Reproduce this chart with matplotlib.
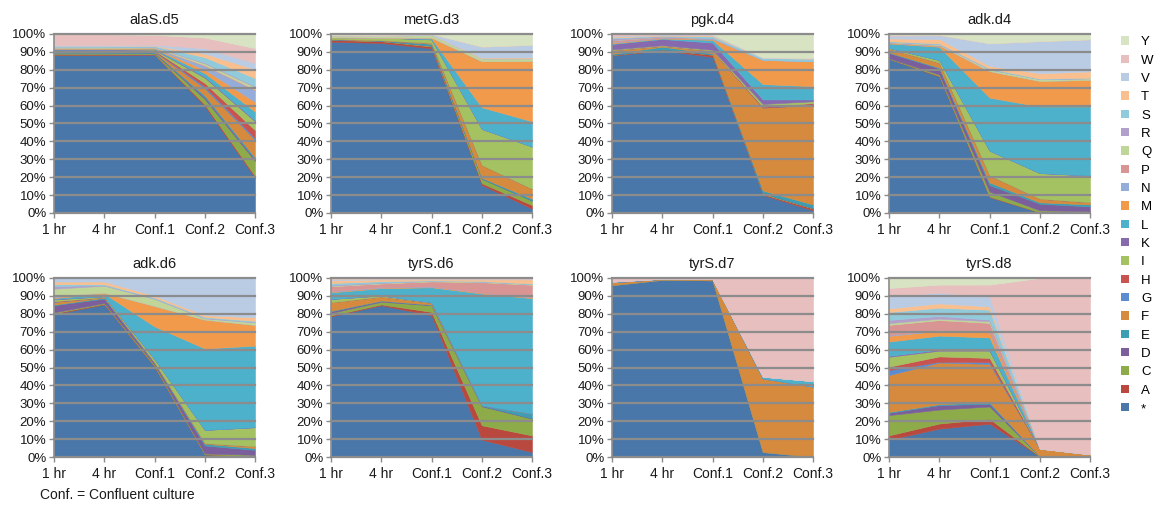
import numpy as np
import matplotlib.pyplot as plt
from matplotlib.patches import Patch
from matplotlib.ticker import PercentFormatter

plt.rcParams['font.family'] = ['Liberation Sans', 'DejaVu Sans']

timepoints = ['1 hr', '4 hr', 'Conf.1', 'Conf.2', 'Conf.3']
residues = ['*', 'A', 'C', 'D', 'E', 'F', 'G', 'H', 'I', 'K',
            'L', 'M', 'N', 'P', 'Q', 'R', 'S', 'T', 'V', 'W', 'Y']
colors = ['#4a77a9', '#b9493f', '#8eab4a', '#7a5f9c', '#3c9db3', '#d68a3e',
          '#5b8cd0', '#c9534f', '#a4c262', '#8769ae', '#4db1cc', '#f29a4c',
          '#93acd9', '#d99593', '#c0d59a', '#b1a0c9', '#91cadb', '#f9bf8e',
          '#bacbe4', '#e6bfbe', '#d7e3c3']

# percent of reads carrying each residue; residues not listed are 0
alaS_d5 = {
    '*': [88, 88.5, 88.5, 60, 20],
    'A': [0.3, 0.3, 0.3, 1, 1],
    'C': [0.5, 0.5, 0.5, 3, 8.5],
    'D': [0.3, 0.3, 0.3, 1, 1],
    'E': [0.3, 0.3, 0.3, 1, 1],
    'F': [0.5, 0.5, 0.5, 4, 10],
    'G': [0.2, 0.2, 0.2, 1, 1],
    'H': [0.2, 0.2, 0.3, 2, 4.5],
    'I': [0.5, 0.5, 0.5, 3, 5],
    'K': [0.2, 0.2, 0.2, 0.5, 0.5],
    'L': [0.3, 0.3, 0.3, 2, 5],
    'M': [0.3, 0.3, 0.3, 2, 5.5],
    'N': [0.2, 0.2, 0.2, 2, 6.5],
    'P': [0.1, 0.1, 0.1, 0.5, 0.5],
    'Q': [0.3, 0.3, 0.3, 1, 1.5],
    'R': [0.1, 0.1, 0.1, 0.5, 0.5],
    'S': [0.5, 0.5, 0.5, 3, 4.5],
    'T': [0.2, 0.2, 0.2, 2, 5],
    'V': [0.5, 0.5, 0.5, 3, 3.5],
    'W': [6, 6, 5.5, 6, 8.5],
    'Y': [0.2, 0.2, 0.5, 2, 8],
}
metG_d3 = {
    '*': [95.7, 95, 92, 15.5, 2.4],
    'A': [1, 1, 1, 1, 2],
    'C': [0.3, 0.3, 0.5, 2.5, 2.5],
    'E': [0.2, 0.2, 1, 0.5, 1],
    'F': [0, 0, 0.5, 7, 5.5],
    'I': [1, 1.5, 2, 20, 23.5],
    'L': [0, 0, 0.5, 12, 14],
    'M': [0, 0, 0.5, 25.5, 33.5],
    'Q': [1, 1, 1.5, 1.5, 1.5],
    'T': [0, 0, 0, 0.5, 0.5],
    'V': [0.3, 0.5, 0.5, 6, 7],
    'Y': [0.5, 0.5, 0, 7, 6],
}
pgk_d4 = {
    '*': [88, 91.4, 87, 10, 1.5],
    'A': [0.3, 0.3, 1.2, 0.5, 1],
    'C': [0.2, 0.2, 0.3, 0.5, 0.3],
    'E': [0.5, 1.5, 0.5, 1.5, 2],
    'F': [2, 0.5, 1.5, 46, 56],
    'H': [0, 0, 0, 0.5, 1],
    'I': [0.5, 0.3, 0.5, 1.5, 1],
    'K': [3, 3.5, 4, 2.5, 1],
    'L': [0.3, 0.3, 1.5, 8.5, 7.5],
    'M': [0.5, 0.3, 0.5, 13.5, 14],
    'N': [0.3, 0.2, 0.2, 0, 0],
    'P': [1, 0.5, 0.3, 0, 0],
    'R': [1, 0.3, 0, 0, 0],
    'S': [0.5, 0.3, 1, 1, 1.5],
    'T': [0.5, 0.3, 0.5, 0, 0],
    'V': [0.5, 0.3, 0.5, 0.3, 0.3],
    'W': [1, 0.3, 0, 0, 0],
    'Y': [0, 0, 0.3, 13, 13.5],
}
adk_d4 = {
    '*': [86.4, 77, 9, 0.4, 0.2],
    'A': [0, 0.3, 0.3, 0, 0],
    'C': [0.3, 0.8, 2.8, 1.1, 0.8],
    'D': [3, 3.5, 3.7, 3.7, 2.7],
    'E': [0.3, 0.5, 1.5, 0.8, 1.1],
    'F': [2, 2.7, 4, 2, 1.2],
    'I': [0.5, 1.5, 14, 14.4, 15],
    'L': [2.5, 7.5, 30, 37.3, 38.7],
    'M': [0.3, 0.5, 15, 14.3, 14.9],
    'N': [0.2, 0.2, 0, 0, 0],
    'P': [0.2, 0.2, 0, 0, 0],
    'Q': [0.3, 0.5, 1, 1, 0.9],
    'S': [0.3, 0.5, 0.5, 0.3, 0.3],
    'T': [1.5, 2.5, 1.5, 3, 3.5],
    'V': [1.5, 2, 12.7, 18, 18],
    'W': [0.5, 0.3, 0, 0, 0],
    'Y': [0.5, 0.5, 5.3, 4, 3],
}
adk_d6 = {
    '*': [80.4, 86, 51, 1.5, 0.5],
    'A': [0.5, 0.3, 0.3, 0, 0],
    'C': [0.5, 0.5, 0.8, 0.5, 0.7],
    'D': [4, 2.5, 0.9, 4.5, 2.8],
    'E': [0.3, 0.5, 0.3, 1, 1],
    'F': [1.5, 0.3, 0.3, 0.3, 1],
    'G': [0.2, 0, 0, 0, 0],
    'H': [0.2, 0, 0, 0, 0],
    'I': [1, 0.5, 1.7, 7.5, 10.7],
    'K': [0.3, 0, 0, 0, 0],
    'L': [0.5, 1.5, 18.5, 46, 45.7],
    'M': [0.5, 0.5, 11.5, 16.3, 11.6],
    'N': [0.5, 0, 0, 0, 0],
    'P': [0.3, 0, 0, 0, 0],
    'Q': [4, 4, 4, 0.7, 1.4],
    'R': [1.5, 0.3, 0.3, 0.3, 0.3],
    'S': [1, 0.5, 0.5, 0.5, 0.6],
    'T': [1.5, 1.5, 1, 1, 2],
    'V': [2, 2, 10, 21, 22],
}
tyrS_d6 = {
    '*': [78.5, 85, 79.4, 9.7, 2.8],
    'A': [0.5, 0.5, 1.9, 8.1, 9.3],
    'C': [1.4, 1.5, 3.7, 10.6, 9.4],
    'D': [0.9, 0.5, 0.2, 0.3, 0.3],
    'E': [0.3, 0.2, 0.2, 0.3, 2.5],
    'F': [4.7, 2.2, 1, 0, 0],
    'I': [1.9, 0.6, 0.3, 0, 0],
    'L': [3.7, 4.1, 8.4, 62.6, 64.8],
    'M': [0.3, 0.3, 0.3, 0.4, 0.4],
    'N': [0.3, 0.3, 0.2, 0, 0],
    'P': [2.8, 2, 2.8, 6, 7.1],
    'Q': [0.3, 0.3, 0.3, 0.3, 0.4],
    'R': [0.5, 0.3, 0, 0, 0],
    'S': [1, 0.7, 0.3, 0.3, 0.3],
    'T': [1.5, 1, 0.5, 0.9, 2.3],
    'V': [0.5, 0.3, 0.3, 0.3, 0.3],
    'W': [0.5, 0.3, 0.3, 0.3, 0.3],
    'Y': [0.3, 0.2, 0.2, 0.2, 0.2],
}
tyrS_d7 = {
    '*': [96, 99, 98.7, 2.8, 0.1],
    'F': [1.6, 0.5, 0.6, 41.1, 39.2],
    'L': [0.4, 0.1, 0.1, 1, 3.1],
    'W': [2, 0.4, 0.6, 55.1, 57.6],
}
tyrS_d8 = {
    '*': [9.7, 15.9, 18.7, 0.3, 0],
    'A': [2.4, 2.8, 2.8, 0, 0],
    'C': [11.3, 7.8, 6.9, 0, 0],
    'D': [1.3, 2.5, 1.5, 0, 0],
    'E': [0.5, 0.5, 0.9, 0, 0],
    'F': [20.6, 23.3, 21.5, 4.4, 1.5],
    'G': [2.8, 0.4, 1, 0, 0],
    'H': [1.9, 3, 2.4, 0, 0],
    'I': [5.5, 3.2, 4.1, 0, 0],
    'K': [0.5, 0.6, 0.3, 0, 0],
    'L': [8, 7.8, 7.1, 0, 0],
    'M': [3.2, 2.7, 3.1, 0, 0],
    'N': [0.5, 0.3, 0.3, 0, 0],
    'P': [5.6, 5.7, 4.8, 0, 0],
    'Q': [1, 0.8, 0.9, 0, 0],
    'R': [1.8, 1.5, 0.9, 0, 0],
    'S': [4.4, 4.6, 5.6, 0, 0],
    'T': [2, 2.4, 1.8, 0, 0],
    'V': [6.7, 6, 5.7, 0, 0],
    'W': [4.7, 4.5, 6.6, 95.3, 98.5],
    'Y': [5.6, 3.7, 3.7, 0, 0],
}

panels = [('alaS.d5', alaS_d5), ('metG.d3', metG_d3), ('pgk.d4', pgk_d4), ('adk.d4', adk_d4),
          ('adk.d6', adk_d6), ('tyrS.d6', tyrS_d6), ('tyrS.d7', tyrS_d7), ('tyrS.d8', tyrS_d8)]

W, H = 1160, 508
fig = plt.figure(figsize=(W / 100, H / 100), dpi=100)

lefts = [54, 331, 612, 889]
tops = [34, 278]
ax_w, ax_h = 201, 179
grid_col = '#8c8c8c'
x = np.arange(len(timepoints))

for i, (name, counts) in enumerate(panels):
    row, col = divmod(i, 4)
    ax = fig.add_axes([lefts[col] / W, 1 - (tops[row] + ax_h) / H, ax_w / W, ax_h / H])
    data = np.array([counts.get(r, [0] * len(timepoints)) for r in residues], dtype=float)
    data = data / data.sum(axis=0)  # 100% stacked
    polys = ax.stackplot(x, data, colors=colors)
    for p, c in zip(polys, colors):
        p.set_edgecolor(c)
        p.set_linewidth(0.4)

    ax.set_xlim(0, 4)
    ax.set_ylim(0, 1)
    ax.set_yticks(np.linspace(0, 1, 11))
    ax.yaxis.set_major_formatter(PercentFormatter(1.0, decimals=0))
    ax.set_xticks(x)
    ax.set_xticklabels(timepoints)
    ax.set_axisbelow(False)
    ax.yaxis.grid(True, color=grid_col, linewidth=1.6)
    for gl in ax.get_ygridlines():
        gl.set_clip_on(False)
    ax.tick_params(axis='both', labelsize=9.5, colors=grid_col, labelcolor='#1a1a1a',
                   length=3.5, width=1, pad=2)
    ax.tick_params(axis='x', labelsize=10, pad=4)
    for side in ('top', 'right'):
        ax.spines[side].set_visible(False)
    for side in ('left', 'bottom'):
        ax.spines[side].set_color(grid_col)
        ax.spines[side].set_linewidth(1.2)
    ax.set_title(name, fontsize=10.5, pad=7, color='#1a1a1a')

handles = [Patch(facecolor=c, edgecolor='none') for c in colors]
fig.legend(handles[::-1], residues[::-1], loc='upper left',
           bbox_to_anchor=(1116 / W, 1 - 31 / H), frameon=False,
           fontsize=9.5, handlelength=0.6, handleheight=0.6,
           handletextpad=0.9, labelspacing=0.48, borderaxespad=0)

fig.text(40 / W, 1 - 495 / H, 'Conf. = Confluent culture', fontsize=10,
         va='center', ha='left', color='#1a1a1a')

fig.savefig('out.png', dpi=100, facecolor='white')
